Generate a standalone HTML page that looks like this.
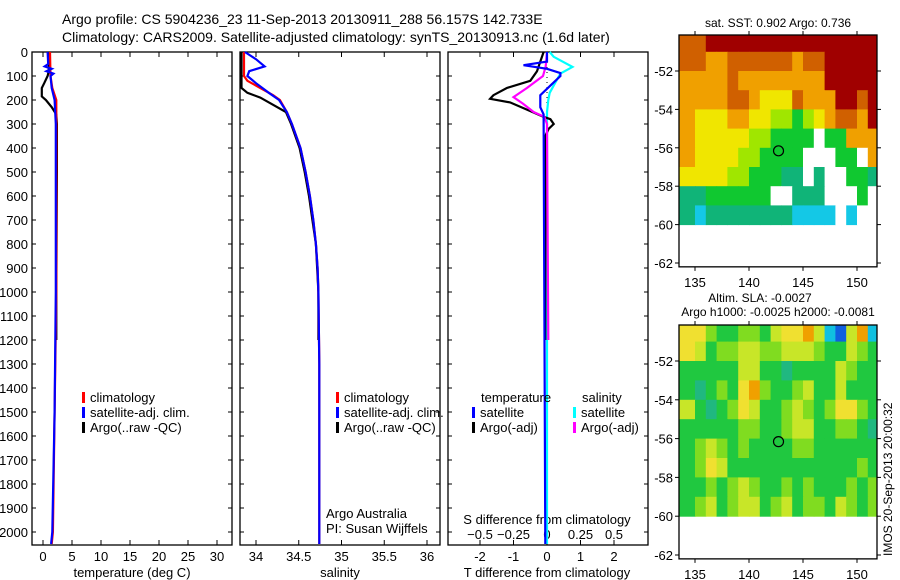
<!DOCTYPE html>
<html><head><meta charset="utf-8"><style>
body{margin:0;background:#fff;}
svg{display:block;font-family:"Liberation Sans",sans-serif;}
text{font-size:13px;fill:#000;}
</style></head><body>
<svg id="s" width="900" height="580">
<text x="62" y="24" style="font-size:14px">Argo profile: CS 5904236_23 11-Sep-2013 20130911_288 56.157S 142.733E</text>
<text x="62" y="42" style="font-size:14px">Climatology: CARS2009. Satellite-adjusted climatology: synTS_20130913.nc (1.6d later)</text>
</svg>
<script>
const depthTicks=[0,100,200,300,400,500,600,700,800,900,1000,1100,1200,1300,1400,1500,1600,1700,1800,1900,2000];
const tTicks=[0,5,10,15,20,25,30];
const sTicks=[34,34.5,35,35.5,36];
const dtTicks=[-2,-1,0,1,2];
const dsTicks=[-0.5,-0.25,0,0.25,0.5];
// temperature profiles [depth, value]
const tClim=[[0,1.2],[100,1.3],[150,1.6],[200,2.3],[300,2.3],[1000,2.3],[1500,2.0],[2000,1.7],[2050,1.5]];
const tSat=[[0,0.8],[50,0.9],[60,0.3],[70,1.5],[80,0.6],[90,1.8],[100,1.3],[150,1.5],[200,2.0],[250,2.1],[300,2.2],[1000,2.2],[1500,2.0],[2000,1.6],[2050,1.4]];
const tArgo=[[0,1.0],[80,1.0],[100,0.8],[130,0.2],[150,-0.2],[185,-0.2],[200,0.5],[230,1.5],[260,2.3],[300,2.4],[500,2.4],[1000,2.3],[1200,2.3]];
// salinity profiles
const sClim=[[0,33.86],[100,33.86],[120,33.9],[150,34.05],[180,34.2],[200,34.28],[250,34.36],[300,34.42],[400,34.52],[500,34.58],[600,34.63],[700,34.67],[800,34.7],[900,34.72],[1000,34.73],[1300,34.74],[2050,34.74]];
const sSat=[[0,33.87],[30,34.0],[60,34.1],[80,33.92],[100,33.9],[130,34.0],[170,34.15],[200,34.27],[250,34.36],[300,34.42],[400,34.52],[500,34.58],[600,34.63],[700,34.67],[800,34.7],[900,34.72],[1000,34.73],[1300,34.74],[2050,34.74]];
const sArgo=[[0,33.83],[150,33.83],[170,33.9],[190,34.05],[220,34.2],[250,34.35],[300,34.41],[400,34.51],[500,34.57],[600,34.62],[700,34.66],[800,34.7],[1000,34.73],[1200,34.73]];
// differences
const dtSat=[[0,0],[40,0],[55,-0.7],[70,0],[88,0.4],[100,0.4],[140,0.1],[180,-0.2],[230,-0.2],[260,-0.1],[2050,-0.05]];
const dtArgo=[[0,-0.1],[80,-0.3],[120,-0.5],[150,-1.2],[180,-1.6],[195,-1.7],[210,-1.1],[240,-0.6],[270,-0.1],[280,0.1],[300,0.2],[320,0.05],[350,-0.05],[1200,-0.05]];
const dsSat=[[0,0.02],[20,0.05],[62,0.19],[90,0.1],[130,0.06],[170,0.02],[200,0.01],[250,0.0],[2050,0.0]];
const dsArgo=[[0,0],[60,-0.01],[100,-0.03],[150,-0.15],[188,-0.25],[215,-0.18],[250,-0.1],[270,-0.02],[300,0.0],[800,0.005],[1200,0.01]];
// map grids (lat rows top->bottom from -50 to -60, lon cols 134..152), colour class indices
const sstGrid=[
[7,7,8,8,8,8,8,8,8,8,8,8,8,8,8,8,8,8],
[7,7,6,6,7,7,7,7,7,7,6,7,7,8,8,8,8,8],
[6,6,6,6,7,6,6,6,6,6,6,6,6,8,8,8,8,8],
[6,6,6,6,7,7,6,5,5,5,7,6,6,6,8,8,7,8],
[6,5,5,5,6,6,5,5,4,4,3,4,5,6,7,7,6,8],
[6,5,5,5,5,5,4,4,3,3,3,3,0,3,3,6,6,6],
[6,5,5,5,5,4,4,3,3,3,3,0,0,0,3,3,0,6],
[5,5,5,5,4,4,3,3,3,2,2,0,2,0,0,3,3,2],
[2,2,3,3,3,3,3,3,0,0,2,2,2,0,0,0,3,0],
[2,1,2,2,2,2,2,2,2,2,1,1,1,1,0,1,0,0]];
const slaGrid=[
[6,6,4,3,3,4,4,3,5,6,6,7,5,1,0,5,7,1],
[6,5,3,4,4,5,5,4,4,5,5,5,4,3,3,5,4,3],
[3,3,3,3,3,5,5,3,3,2,3,3,3,3,5,4,3,3],
[3,2,3,4,3,6,7,4,3,3,4,5,3,3,5,3,3,3],
[5,3,2,3,4,6,5,3,3,4,5,4,3,4,6,6,4,3],
[3,3,3,3,3,4,4,3,3,4,5,5,3,3,4,4,3,2],
[3,4,5,4,3,4,3,3,3,3,4,4,3,3,3,3,3,3],
[3,4,6,5,3,3,3,3,3,3,3,3,3,3,3,3,4,3],
[3,3,4,3,4,5,4,3,3,4,3,4,3,3,3,4,3,4],
[3,4,5,3,4,5,5,3,4,5,3,4,4,3,5,4,3,4]];
const mapLatTicks=[-52,-54,-56,-58,-60,-62];
const mapLonTicks=[135,140,145,150];
const argoLat=-56.157, argoLon=142.733;

const NS='http://www.w3.org/2000/svg';
const svg=document.getElementById('s');
function el(tag,attrs,parent){const e=document.createElementNS(NS,tag);for(const k in attrs)e.setAttribute(k,attrs[k]);(parent||svg).appendChild(e);return e;}
function txt(x,y,s,anchor,size){const t=el('text',{x:x,y:y,'text-anchor':anchor||'start'});if(size)t.style.fontSize=size+'px';t.textContent=s;return t;}
const Y0=52, PB=545;
const yD=d=>Y0+d*0.24;
const xT=v=>43+v*5.8;
const xS=v=>256+(v-34)*85.5;
const xDT=v=>547+v*33.5;
const xDS=v=>547+v*134;

function frame(x0,x1,name){const r=el('rect',{x:x0,y:Y0,width:x1-x0,height:PB-Y0,fill:'none',stroke:'#000','stroke-width':1.3});


depthTicks.forEach(d=>{el('line',{x1:x0,x2:x0+4,y1:yD(d),y2:yD(d),stroke:'#000'});el('line',{x1:x1-4,x2:x1,y1:yD(d),y2:yD(d),stroke:'#000'});});}
function line(data,xf,color,name,w){const p=data.map(a=>xf(a[1]).toFixed(1)+','+yD(a[0]).toFixed(1)).join(' ');
const l=el('polyline',{points:p,fill:'none',stroke:color,'stroke-width':w||2.2});

}
function xticks(ticks,xf,x0,x1){ticks.forEach(v=>{const x=xf(v);if(x<x0||x>x1)return;el('line',{x1:x,x2:x,y1:Y0,y2:Y0+5,stroke:'#000'});el('line',{x1:x,x2:x,y1:PB-5,y2:PB,stroke:'#000'});});}

// panel 1
frame(32,232,'temperature-panel');
depthTicks.forEach(d=>{const t=txt(28,yD(d)+5,String(d),'end');});
xticks(tTicks,xT,32,232);
tTicks.forEach(v=>{const t=txt(xT(v),561,String(v),'middle');});
const tt=txt(132,577,'temperature (deg C)','middle');
line(tArgo,xT,'#000','temp-argo-line');
line(tClim,xT,'#f00','temp-climatology-line');
line(tSat,xT,'#00f','temp-satellite-line');
// panel 2
frame(240,440,'salinity-panel');
xticks(sTicks,xS,240,440);
sTicks.forEach(v=>{const t=txt(xS(v),561,String(v),'middle');});
const st=txt(340,577,'salinity','middle');
line(sArgo,xS,'#000','sal-argo-line');
line(sClim,xS,'#f00','sal-climatology-line');
line(sSat,xS,'#00f','sal-satellite-line');
// panel 3
frame(448,648,'difference-panel');
xticks(dtTicks,xDT,448,648);
el('line',{x1:547,x2:547,y1:Y0,y2:PB,stroke:'#000','stroke-dasharray':'1,4'});
dtTicks.forEach(v=>{const t=txt(xDT(v),561,String(v),'middle');});
dsTicks.forEach(v=>{const t=txt(xDS(v),539,String(v).replace('-','−'),'middle');});
const dt=txt(547,577,'T difference from climatology','middle');
const ds=txt(547,524,'S difference from climatology','middle');
line(dsSat,xDS,'#0ff','sdiff-satellite-line');
line(dtArgo,xDT,'#000','tdiff-argo-line');
line(dsArgo,xDS,'#f0f','sdiff-argo-line');
line(dtSat,xDT,'#00f','tdiff-satellite-line');

// legends
function leg(x,y,color,label,name){el('rect',{x:x,y:y-10,width:3,height:11,fill:color});const t=txt(x+8,y,label);}
[[82,'temp'],[336,'sal']].forEach(([x,n])=>{leg(x,402,'#f00','climatology',n+'-legend-climatology');leg(x,417,'#00f','satellite-adj. clim.',n+'-legend-satellite');leg(x,432,'#000','Argo(..raw -QC)',n+'-legend-argo');});
txt(481,402,'temperature');
txt(582,402,'salinity');
leg(472,417,'#00f','satellite','diff-legend-t-satellite');
leg(472,432,'#000','Argo(-adj)','diff-legend-t-argo');
leg(573,417,'#0ff','satellite','diff-legend-s-satellite');
leg(573,432,'#f0f','Argo(-adj)','diff-legend-s-argo');
txt(326,518,'Argo Australia');
txt(326,533,'PI: Susan Wijffels');

// maps
const sstCols=['#ffffff','#14c8e6','#10b478','#10c830','#a0e600','#f0e600','#f0a000','#d06000','#a00000'];
const slaCols=['#1060e0','#10c0e0','#20b880','#20c840','#80dc20','#c8e628','#f0e030','#f0a000','#d02000'];
function drawMap(grid,cols,fx0,fx1,fyTop,yLat52,name){
  const pxLon=10.8, pxLat=(yLat52===71)?19.2:19.4;
  const xL=lon=>695+(lon-135)*pxLon;
  const yL=lat=>yLat52+(-52-lat)*pxLat;
  const g=el('g',{});
  
  
  grid.forEach((row,r)=>row.forEach((v,c)=>{
    const latTop=-50-r;
    const y=r===0?fyTop:yL(latTop), y2=yL(latTop-1);
    const xa=c===0?fx0:xL(134+c), xb=c===row.length-1?fx1:xL(135+c);
    el('rect',{x:xa,y:y,width:xb-xa+0.5,height:y2-y+0.5,fill:cols[v]},g);
  }));
  el('rect',{x:fx0,y:fyTop,width:fx1-fx0,height:yL(-62.2)-fyTop,fill:'none',stroke:'#000','stroke-width':1.3});
  mapLatTicks.forEach(l=>{const y=yL(l);el('line',{x1:fx0-4,x2:fx0,y1:y,y2:y,stroke:'#000'});el('line',{x1:fx1,x2:fx1+4,y1:y,y2:y,stroke:'#000'});
    const t=txt(fx0-6,y+5,String(l),'end');});
  mapLonTicks.forEach(l=>{const x=xL(l);el('line',{x1:x,x2:x,y1:fyTop-4,y2:fyTop,stroke:'#000'});el('line',{x1:x,x2:x,y1:yL(-62.2),y2:yL(-62.2)+4,stroke:'#000'});
    const t=txt(x,yL(-62.2)+20,String(l),'middle');});
  const c=el('circle',{cx:xL(argoLon),cy:yL(argoLat),r:5,fill:'none',stroke:'#000','stroke-width':1.2});
  
  
}
drawMap(sstGrid,sstCols,679,877,35,71,'sst-map');
txt(778,27,'sat. SST: 0.902 Argo: 0.736','middle',12);
drawMap(slaGrid,slaCols,679,877,325,361,'sla-map');
txt(760,302,'Altim. SLA: -0.0027','middle',12);
txt(778,316,'Argo h1000: -0.0025 h2000: -0.0081','middle',12);
const ts=txt(0,0,'IMOS 20-Sep-2013 20:00:32','start',12);
ts.setAttribute('transform','translate(892,556) rotate(-90)');


</script>
</body></html>
